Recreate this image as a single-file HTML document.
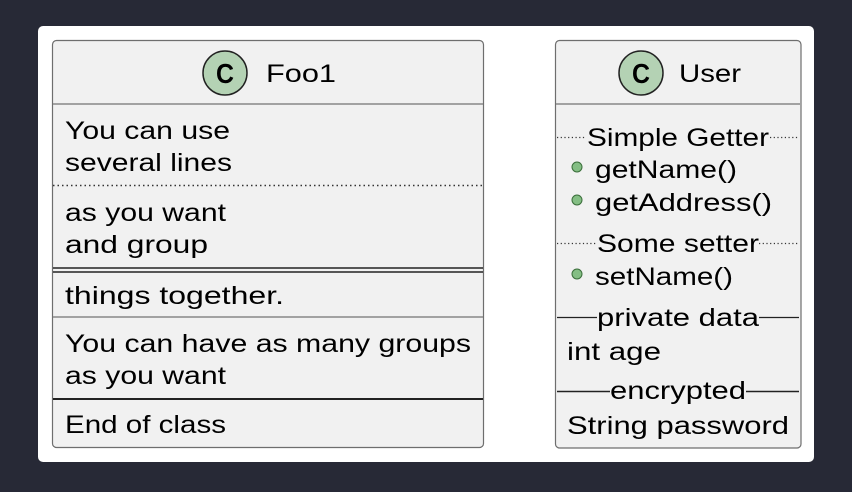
<!DOCTYPE html>
<html><head><meta charset="utf-8"><style>
html,body{margin:0;padding:0;background:#272936;}
svg{display:block}
text{font-family:"Liberation Sans","DejaVu Sans",sans-serif;font-size:25px;fill:#000}
</style></head><body>
<svg width="852" height="492" viewBox="0 0 852 492" xmlns="http://www.w3.org/2000/svg">
<rect x="0" y="0" width="852" height="492" fill="#272936"/>
<rect x="38" y="26" width="776" height="436" rx="5" fill="#ffffff"/>
<!-- Foo1 -->
<rect x="52.5" y="40.5" width="431" height="407" rx="4" fill="#f1f1f1" stroke="#6e6e6e" stroke-width="1.2"/>
<circle cx="225" cy="73" r="22" fill="#b4d2b4" stroke="#222" stroke-width="1.5"/>
<text x="225" y="83" text-anchor="middle" style="font-size:28px;font-weight:bold" textLength="18" lengthAdjust="spacingAndGlyphs">C</text>
<text x="266" y="82" textLength="70" lengthAdjust="spacingAndGlyphs">Foo1</text>
<line x1="53" y1="104" x2="483" y2="104" stroke="#888" stroke-width="1.5"/>
<text x="65" y="139" textLength="165" lengthAdjust="spacingAndGlyphs">You can use</text>
<text x="65" y="171" textLength="167" lengthAdjust="spacingAndGlyphs">several lines</text>
<line x1="53" y1="185.5" x2="483" y2="185.5" stroke="#333" stroke-width="1.5" stroke-dasharray="1.5,3"/>
<text x="65" y="221" textLength="161" lengthAdjust="spacingAndGlyphs">as you want</text>
<text x="65" y="253" textLength="143" lengthAdjust="spacingAndGlyphs">and group</text>
<line x1="53" y1="268" x2="483" y2="268" stroke="#222" stroke-width="1.5"/>
<line x1="53" y1="272" x2="483" y2="272" stroke="#222" stroke-width="1.5"/>
<text x="65" y="304" textLength="219" lengthAdjust="spacingAndGlyphs">things together.</text>
<line x1="53" y1="317" x2="483" y2="317" stroke="#888" stroke-width="1.5"/>
<text x="65" y="352" textLength="406" lengthAdjust="spacingAndGlyphs">You can have as many groups</text>
<text x="65" y="384" textLength="161" lengthAdjust="spacingAndGlyphs">as you want</text>
<line x1="53" y1="399" x2="483" y2="399" stroke="#222" stroke-width="2"/>
<text x="65" y="433" textLength="161" lengthAdjust="spacingAndGlyphs">End of class</text>
<!-- User -->
<rect x="555.5" y="40.5" width="245.5" height="407.5" rx="4" fill="#f1f1f1" stroke="#6e6e6e" stroke-width="1.2"/>
<circle cx="641" cy="73" r="22" fill="#b4d2b4" stroke="#222" stroke-width="1.5"/>
<text x="641" y="83" text-anchor="middle" style="font-size:28px;font-weight:bold" textLength="18" lengthAdjust="spacingAndGlyphs">C</text>
<text x="679" y="82" textLength="62" lengthAdjust="spacingAndGlyphs">User</text>
<line x1="556" y1="104" x2="800" y2="104" stroke="#888" stroke-width="1.5"/>
<line x1="557" y1="137.5" x2="586" y2="137.5" stroke="#333" stroke-width="1.2" stroke-dasharray="1.2,2.5"/>
<line x1="770" y1="137.5" x2="799" y2="137.5" stroke="#333" stroke-width="1.2" stroke-dasharray="1.2,2.5"/>
<text x="587" y="146" textLength="182" lengthAdjust="spacingAndGlyphs">Simple Getter</text>
<circle cx="577" cy="167" r="5" fill="#84be84" stroke="#3a6e3a" stroke-width="1"/>
<text x="595" y="178" textLength="142" lengthAdjust="spacingAndGlyphs">getName()</text>
<circle cx="577" cy="200" r="5" fill="#84be84" stroke="#3a6e3a" stroke-width="1"/>
<text x="595" y="211" textLength="177" lengthAdjust="spacingAndGlyphs">getAddress()</text>
<line x1="557" y1="243.5" x2="597" y2="243.5" stroke="#333" stroke-width="1.2" stroke-dasharray="1.2,2.5"/>
<line x1="759" y1="243.5" x2="799" y2="243.5" stroke="#333" stroke-width="1.2" stroke-dasharray="1.2,2.5"/>
<text x="597" y="252" textLength="162" lengthAdjust="spacingAndGlyphs">Some setter</text>
<circle cx="577" cy="274" r="5" fill="#84be84" stroke="#3a6e3a" stroke-width="1"/>
<text x="595" y="285" textLength="138" lengthAdjust="spacingAndGlyphs">setName()</text>
<line x1="557" y1="317.5" x2="597" y2="317.5" stroke="#222" stroke-width="1.2"/>
<line x1="759" y1="317.5" x2="799" y2="317.5" stroke="#222" stroke-width="1.2"/>
<text x="597" y="326" textLength="162" lengthAdjust="spacingAndGlyphs">private data</text>
<text x="567" y="360" textLength="94" lengthAdjust="spacingAndGlyphs">int age</text>
<line x1="557" y1="391.5" x2="610" y2="391.5" stroke="#222" stroke-width="1.5"/>
<line x1="746" y1="391.5" x2="799" y2="391.5" stroke="#222" stroke-width="1.5"/>
<text x="610" y="399" textLength="136" lengthAdjust="spacingAndGlyphs">encrypted</text>
<text x="567" y="434" textLength="222" lengthAdjust="spacingAndGlyphs">String password</text>
</svg>
</body></html>
